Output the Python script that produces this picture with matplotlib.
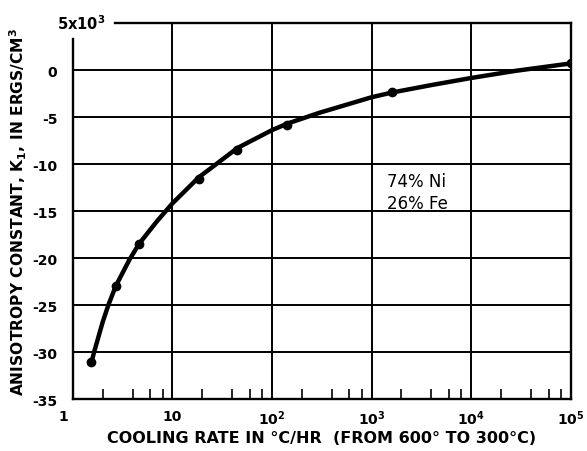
import matplotlib
matplotlib.use("Agg")
import matplotlib.pyplot as plt
from matplotlib.ticker import FixedLocator, NullFormatter
from matplotlib.transforms import ScaledTranslation

# ── Data ──────────────────────────────────────────────────────────────────────
# measured points: cooling rate (deg C / hr) vs K1 (units of 10^3 ergs/cm^3)
rate_pts = [1.53, 2.7, 4.63, 18.5, 45, 143, 1600, 1.0e5]
k1_pts = [-31.1, -23.0, -18.5, -11.6, -8.5, -5.8, -2.3, 0.7]

# faired curve drawn through the measurements
rate_curve = [1.55, 1.64, 2.0, 2.28, 2.7, 3.7, 4.63, 7.0, 10, 18.5, 24, 45,
              100, 143, 300, 1000, 1600, 4000, 1.0e4, 2.75e4, 1.0e5]
k1_curve = [-31.0, -30.0, -26.8, -25.0, -23.0, -20.2, -18.5, -16.1, -14.2,
            -11.4, -10.5, -8.3, -6.4, -5.7, -4.55, -2.9, -2.4, -1.6, -0.85,
            -0.1, 0.7]

x_ticks = [1, 10, 1e2, 1e3, 1e4, 1e5]
x_tick_labels = ["1", "10", r"$\mathbf{10^{2}}$", r"$\mathbf{10^{3}}$",
                 r"$\mathbf{10^{4}}$", r"$\mathbf{10^{5}}$"]
y_ticks = [0, -5, -10, -15, -20, -25, -30, -35]
y_tick_labels = ["0", "-5", "-10", "-15", "-20", "-25", "-30", "-35"]
minor_steps = [2, 4, 6, 8]

# ── Figure ────────────────────────────────────────────────────────────────────
plt.rcParams["font.family"] = "DejaVu Sans"
plt.rcParams["axes.unicode_minus"] = False

fig = plt.figure(figsize=(5.87, 4.52), dpi=100)
ax = fig.add_axes([0.1239, 0.115, 0.8483, 0.8319])

ax.set_xscale("log")
ax.set_xlim(1, 1e5)
ax.set_ylim(-35, 5)

# grid drawn by hand so the open top-left corner stays open
for xv in x_ticks[1:-1]:
    ax.axvline(xv, color="black", lw=1.4, zorder=1)
for yv in y_ticks[:-1]:
    ax.axhline(yv, color="black", lw=1.4, zorder=1)

for name, sp in ax.spines.items():
    sp.set_linewidth(1.7)
    sp.set_color("black")
ax.spines["left"].set_bounds(-35, 3.35)
ax.spines["top"].set_bounds(2.66, 1e5)

ax.plot(rate_curve, k1_curve, color="black", lw=3.2,
        solid_capstyle="round", solid_joinstyle="round", zorder=3)
ax.plot(rate_pts, k1_pts, "o", color="black", ms=6, zorder=4)

# ticks
ax.xaxis.set_major_locator(FixedLocator(x_ticks))
ax.set_xticklabels(x_tick_labels)
minor = [s * d for d in x_ticks[:-1] for s in minor_steps]
ax.xaxis.set_minor_locator(FixedLocator(minor))
ax.xaxis.set_minor_formatter(NullFormatter())
ax.set_yticks(y_ticks)
ax.set_yticklabels(y_tick_labels)

ax.tick_params(axis="both", which="major", length=0, labelsize=10)
ax.tick_params(axis="x", which="major", pad=7)
ax.tick_params(axis="y", which="major", pad=11)
ax.tick_params(axis="x", which="minor", direction="in", length=7,
               width=1.2, bottom=True, top=False)
ax.tick_params(axis="y", which="minor", left=False)
for lab in ax.get_xticklabels() + ax.get_yticklabels():
    lab.set_fontweight("bold")

# the "1" sits a little left of the axis
first = ax.get_xticklabels()[0]
first.set_transform(first.get_transform() +
                    ScaledTranslation(-7 / 72, 0, fig.dpi_scale_trans))

ax.text(-0.032, 1.0, r"$\mathbf{5x10^{3}}$", transform=ax.transAxes,
        ha="left", va="center", fontsize=10.5)

ax.text(2860, -13.0, "74% Ni\n26% Fe", ha="center", va="center",
        fontsize=12, linespacing=1.25)

ax.set_xlabel("COOLING RATE IN °C/HR  (FROM 600° TO 300°C)",
              fontsize=11.5, fontweight="bold", labelpad=2)
ax.set_ylabel("ANISOTROPY CONSTANT, K$_\\mathbf{1}$, IN ERGS/CM$^\\mathbf{3}$",
              fontsize=11.2, fontweight="bold", labelpad=2)

fig.savefig("out.png", dpi=100)
